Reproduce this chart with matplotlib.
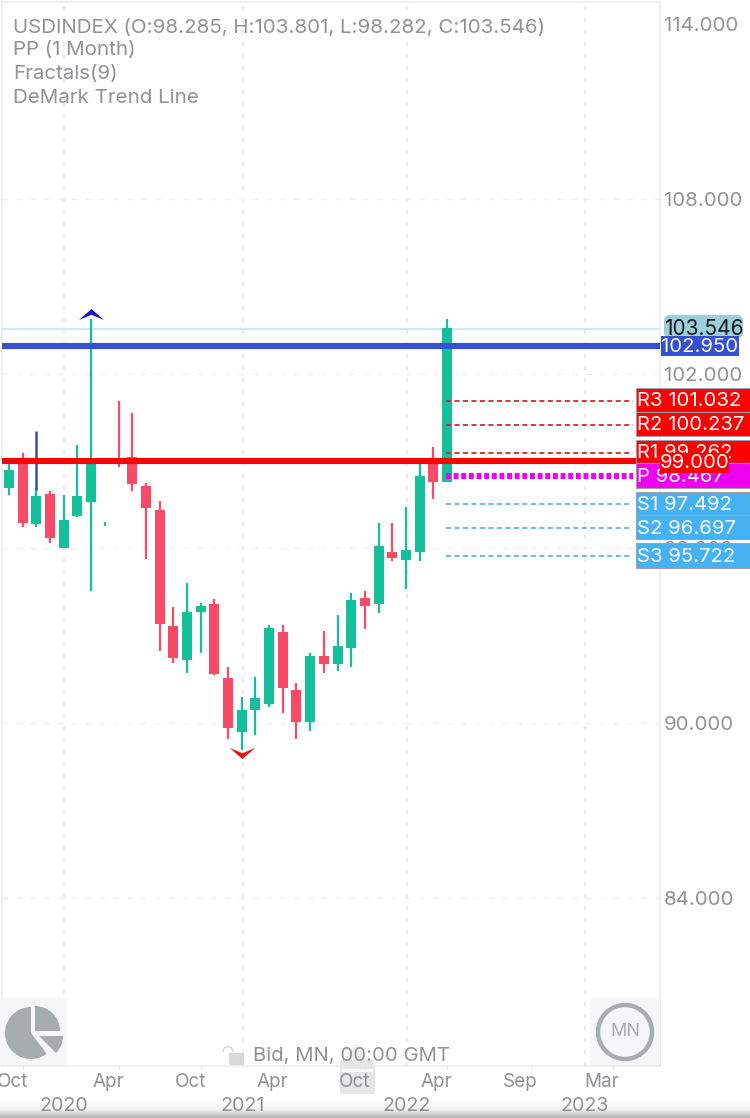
import numpy as np
import matplotlib
matplotlib.use("Agg")
import matplotlib.pyplot as plt
from matplotlib.path import Path
from matplotlib.patches import Rectangle, FancyBboxPatch, Wedge, Circle, Polygon
from matplotlib.transforms import ScaledTranslation

plt.rcParams['font.family'] = ['Inter', 'DejaVu Sans']

# ---- data -------------------------------------------------------------
opens  = [98.07, 98.92, 96.84, 97.87, 96.01, 97.11, 97.59, 96.84, 99.07, 99.14, 98.14, 97.32, 93.33, 92.17, 93.81, 94.09, 91.55,
          89.70, 90.45, 90.66, 93.13, 91.14, 90.04, 92.30, 92.03, 92.58, 94.30, 94.09, 95.87, 95.60, 95.87, 98.92, 98.28]
closes = [98.69, 96.86, 97.80, 96.36, 96.97, 97.80, 98.90, 96.84, 98.93, 98.21, 97.38, 93.41, 92.24, 93.81, 94.02, 91.69, 89.83,
          90.45, 90.86, 93.27, 91.21, 90.04, 92.30, 92.03, 92.65, 94.23, 94.02, 96.08, 95.67, 95.94, 98.48, 98.28, 103.56]
highs  = [98.93, 99.26, 98.06, 97.97, 97.83, 99.55, 103.87, 96.90, 101.06, 100.65, 98.24, 97.63, 93.99, 94.81, 94.12, 94.26, 91.93,
          90.90, 91.58, 93.37, 93.37, 91.38, 92.41, 93.16, 93.71, 94.47, 94.54, 96.87, 96.87, 97.42, 98.90, 99.48, 103.87]
lows   = [97.83, 96.74, 96.74, 96.20, 96.01, 97.08, 94.54, 96.78, 98.80, 97.97, 95.63, 92.49, 92.06, 91.72, 92.41, 91.65, 89.45,
          89.08, 89.59, 90.55, 90.35, 89.45, 89.73, 91.72, 91.79, 91.93, 93.23, 93.78, 95.57, 94.60, 95.57, 97.69, 98.28]

price_ticks = [114, 108, 102, 96, 90, 84]
month_pos = [1.02, 8.03, 14.03, 20.0, 26.0, 32.0, 38.1, 44.1]
month_labels = ['Oct', 'Apr', 'Oct', 'Apr', 'Oct', 'Apr', 'Sep', 'Mar']
year_pos = [4.02, 17.09, 29.07, 42.07]
year_labels = ['2020', '2021', '2022', '2023']

last_price = 103.546
blue_level = 102.950
red_level = 99.000
pivot_names = ['R3', 'R2', 'R1', 'P', 'S1', 'S2', 'S3']
pivot_values = [101.032, 100.237, 99.262, 98.467, 97.492, 96.697, 95.722]
pivot_draw = [101.06, 100.24, 99.28, 98.49, 97.52, 96.70, 95.75]
trend_x = [2.0, 2.0]
trend_y = [100.03, 98.0]
fractal_up = (6, 104.03)
fractal_down = (17, 88.97)
header = ['USDINDEX (O:98.285, H:103.801, L:98.282, C:103.546)', 'PP (1 Month)', 'Fractals(9)', 'DeMark Trend Line']

GREEN, RED = '#14c09a', '#fb4a68'
GREY = '#8f9396'

W, H = 750, 1118
fig = plt.figure(figsize=(W/100, H/100), dpi=100, facecolor='white')

# background layer: bottom shadow and the pale tab behind the axis labels
bg = fig.add_axes([0, 0, 1, 1], zorder=0)
bg.set_xlim(0, W); bg.set_ylim(H, 0); bg.axis('off')
grad = np.linspace(0, 1, 40)[:, None]
cm = matplotlib.colors.LinearSegmentedColormap.from_list('s', ['#ffffff', '#f4f4f4', '#b5b5b5'])
bg.imshow(grad, extent=(0, W, H, 1100), cmap=cm, aspect='auto', zorder=0.2)
bg.set_xlim(0, W); bg.set_ylim(H, 0)
bg.add_patch(FancyBboxPatch((340, 1060), 35, 34, boxstyle='round,pad=0,rounding_size=3', fc='#e6e6e7', ec='none', zorder=1))
bg.add_patch(Polygon([(345, 1060), (356, 1043), (368, 1060)], fc='#efefef', ec='none', zorder=1))
bg.add_patch(Rectangle((342, 1069), 31, 3, fc='#fafafa', ec='none', zorder=1.1))

L, R, B, T = 2, 660, 1066, 2
ax = fig.add_axes([L/W, 1-B/H, (R-L)/W, (B-T)/H], zorder=1, facecolor='none')
step = 13.69
ax.set_xlim((L-9)/step, (R-9)/step)
py = lambda y: 114-(y-24)/29.13
ax.set_ylim(py(B), py(T))
for s in ['right', 'bottom', 'top', 'left']:
    ax.spines[s].set_color('#ececef')
    ax.spines[s].set_linewidth(1.2)

# grid and ticks
ax.yaxis.tick_right()
ax.set_yticks(price_ticks)
ax.set_yticklabels([f'{v:.3f}' for v in price_ticks])
ax.tick_params(axis='y', length=0, pad=3, labelsize=14.7, labelcolor=GREY)
ax.set_xticks(month_pos)
ax.set_xticklabels(month_labels)
ax.tick_params(axis='x', which='major', length=2, width=0.8, color='#e3e3e6', pad=3, labelsize=13.6, labelcolor=GREY)
for lb in ax.get_xticklabels():
    lb.set_transform(lb.get_transform()+ScaledTranslation(-10.5/100, 0, fig.dpi_scale_trans))
ax.set_xticks(year_pos, minor=True)
ax.set_xticklabels(year_labels, minor=True)
ax.tick_params(axis='x', which='minor', length=0, pad=22, labelsize=14.2, labelcolor=GREY)
ax.grid(True, axis='y', which='major', color='#efeff1', lw=1.0, ls=(0, (4, 6)), zorder=0)
ax.grid(True, axis='x', which='minor', color='#e9e9eb', lw=1.6, ls=(0, (1.8, 3.6)), zorder=0)
ax.get_ygridlines()[0].set_visible(False)
ax.set_axisbelow(True)

# candles
x = np.arange(len(opens))
cols = [GREEN if c >= o else RED for o, c in zip(opens, closes)]
ax.vlines(x, lows, highs, colors=cols, lw=1.6, zorder=2)
ax.bar(x, np.abs(np.array(closes)-np.array(opens)), bottom=np.minimum(opens, closes), width=0.73, color=cols, zorder=2.1)
ax.plot(trend_x, trend_y, color='#3a4fb8', lw=1.8, zorder=2.2, solid_capstyle='butt')

# horizontal levels
ax.axhline(last_price, color='#cbe7ea', lw=1.3, zorder=1.8)
ax.axhline(blue_level, color='#3550d2', lw=4.4, zorder=3)
ax.axhline(red_level, color='#ff0000', lw=4.4, zorder=3)

# pivot lines
xs, xe = (446-9)/step, (633-9)/step
sty = {'R': ('#dd2230', 1.3, (0, (2.8, 1.9))), 'P': ('#f000f0', 4.4, (0, (0.8, 0.45))), 'S': ('#5db9d6', 1.3, (0, (2.8, 1.9)))}
for n, v in zip(pivot_names, pivot_draw):
    c, lw, ls = sty[n[0]]
    ax.plot([xs, xe], [v, v], color=c, lw=lw, ls=ls, zorder=3.2 if n != 'R1' else 2.9, dash_capstyle='butt')

# fractal markers
up = Path([(-1, -.44), (0, .44), (1, -.44), (0, -.02), (-1, -.44)], closed=True)
dn = Path([(-1, .44), (0, -.44), (1, .44), (0, .02), (-1, .44)], closed=True)
ax.plot(*fractal_up, marker=up, ms=18, mfc='#1515c8', mec='none', zorder=4, clip_on=False)
ax.plot(*fractal_down, marker=dn, ms=18.5, mfc='#e21616', mec='none', zorder=4, clip_on=False)

# overlay in pixel coordinates for price tags and app furniture
ov = fig.add_axes([0, 0, 1, 1], facecolor='none', zorder=2)
ov.set_xlim(0, W); ov.set_ylim(H, 0); ov.axis('off')
TS = 14.6

def box(x0, y0, x1, y1, fc, ec='none', z=5):
    ov.add_patch(Rectangle((x0, y0), x1-x0, y1-y0, fc=fc, ec=ec, lw=0.8, zorder=z))

tag_rows = [(388, 412, '#ff0000'), (412, 436, '#ff0000'), (440, 463, '#ff0000'), (463, 488, '#f000f0'),
            (492, 515, '#45b2f5'), (515, 539, '#45b2f5'), (543, 568, '#45b2f5')]
for (y0, y1, fc), n, v in zip(tag_rows, pivot_names, pivot_values):
    box(635.5, y0, 750, y1, fc, ec='#a0a0a8')
    ov.text(637, (y0+y1)/2+1.5, f'{n} {v:.3f}', color='white', fontsize=TS, va='center', ha='left', zorder=5.1)
box(660, 453, 729, 473, '#ff0000', z=6)
ov.text(694.5, 463, f'{red_level:.3f}', color='white', fontsize=TS, ha='center', va='center', zorder=6.1)
ov.add_patch(FancyBboxPatch((665, 316), 77, 21, boxstyle='round,pad=0,rounding_size=5', fc='#9ccfd9', ec='#9ccfd9', lw=1.5, zorder=5))
box(661, 336, 739, 356, '#3550d2', z=5.5)
ov.text(703.5, 329, f'{last_price:.3f}', color='#111820', fontsize=TS+0.4, ha='center', va='center', zorder=5.6)
ov.text(700, 347.5, f'{blue_level:.3f}', color='white', fontsize=TS, ha='center', va='center', zorder=5.6)

# header
for yy, t in zip([28, 50, 74, 98], header):
    ov.text(13, yy, t, color=GREY, fontsize=14.8, va='center', ha='left', zorder=6)

# bottom-left pie button
box(0, 998, 67, 1065, '#f6f6f8', z=1)
PC = '#a6abae'
ov.add_patch(Wedge((31, 1033), 26, 53, 270, fc=PC, ec='none', zorder=2))
ov.add_patch(Wedge((35, 1031), 25, 270, 360, fc=PC, ec='none', zorder=2))
ov.add_patch(Wedge((39, 1036), 24, 0, 45, fc=PC, ec='none', zorder=2))

# MN button
box(590, 998, 660, 1065, '#f6f6f8', z=1)
ov.add_patch(Circle((625, 1032), 27, fc='none', ec='#a9adb0', lw=3.2, zorder=2))
ov.text(625, 1032, 'MN', color='#a9adb0', fontsize=13, ha='center', va='center', zorder=3)

# watermark text and lock
ov.text(253, 1056, 'Bid, MN, 00:00 GMT', color=GREY, fontsize=14.6, va='center', ha='left', zorder=3)
box(229, 1053, 244, 1065, '#d9d9db', z=2)
ov.add_patch(Wedge((228, 1052), 6, 180, 360, width=1.6, fc='#d9d9db', ec='none', zorder=2))

fig.savefig('out.png', dpi=100)
